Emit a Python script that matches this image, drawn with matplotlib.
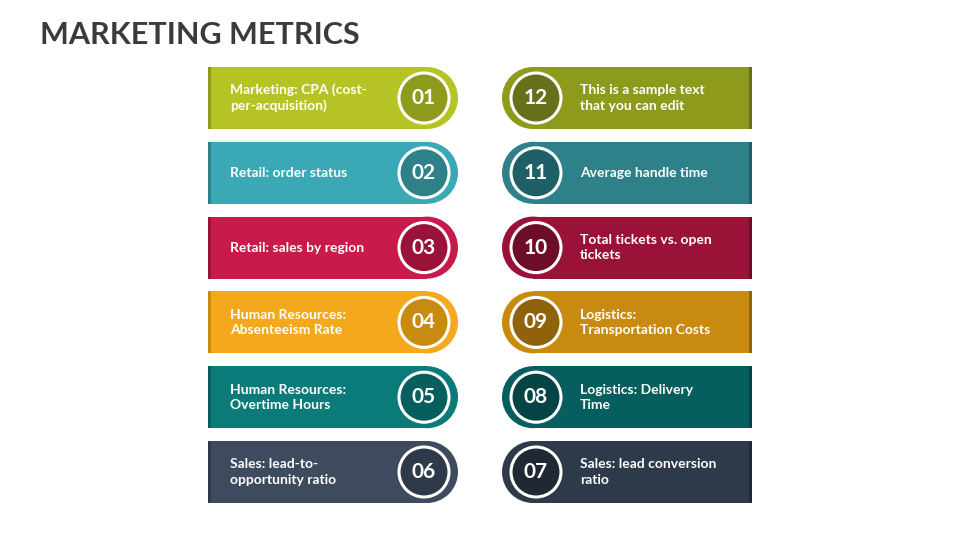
import matplotlib
matplotlib.use("Agg")
import matplotlib.pyplot as plt
from matplotlib.patches import Rectangle, Circle

plt.rcParams["font.family"] = "Lato"

title = "MARKETING METRICS"
left_numbers = ["01", "02", "03", "04", "05", "06"]
left_labels = ["Marketing: CPA (cost-\nper-acquisition)", "Retail: order status",
               "Retail: sales by region", "Human Resources:\nAbsenteeism Rate",
               "Human Resources:\nOvertime Hours", "Sales: lead-to-\nopportunity ratio"]
left_colors = ["#b5c424", "#3aa9b5", "#c81a4b", "#f3a91b", "#0b7b79", "#3e4b5f"]
left_dark = ["#8e9a1c", "#2e8089", "#9a1238", "#c98a10", "#075e5e", "#2e3a4a"]
right_numbers = ["12", "11", "10", "09", "08", "07"]
right_labels = ["This is a sample text\nthat you can edit", "Average handle time",
                "Total tickets vs. open\ntickets", "Logistics:\nTransportation Costs",
                "Logistics: Delivery\nTime", "Sales: lead conversion\nratio"]
right_colors = ["#8e9a1c", "#2e8089", "#9a1238", "#c98a10", "#075e5e", "#2e3a4a"]
right_dark = ["#66701a", "#1f5f66", "#6e0d28", "#8f620b", "#044444", "#1f2833"]

fig = plt.figure(figsize=(9.6, 5.4), dpi=100)
ax = fig.add_axes([0, 0, 1, 1])
ax.set_xlim(0, 960); ax.set_ylim(540, 0); ax.axis("off")
ax.text(40, 35, title, fontsize=22, fontweight="bold", color="#3b3b3b", va="center", ha="left")

h = 62
for i in range(6):
    cy = 98 + i * 74.8
    top = cy - h / 2
    ax.add_patch(Rectangle((210, top), 217, h, color=left_colors[i], lw=0))
    ax.add_patch(Circle((427, cy), h / 2, color=left_colors[i], lw=0))
    ax.add_patch(Rectangle((208, top), 3, h, color=left_dark[i], lw=0))
    ax.add_patch(Circle((424, cy), 25, facecolor=left_dark[i], edgecolor="white", lw=2.2))
    ax.text(424, cy, left_numbers[i], color="white", fontsize=15, fontweight="bold", ha="center", va="center")
    ax.text(230, cy, left_labels[i], color="white", fontsize=10, fontweight="bold", ha="left", va="center", linespacing=1.3)
    ax.add_patch(Rectangle((533, top), 217, h, color=right_colors[i], lw=0))
    ax.add_patch(Circle((533, cy), h / 2, color=right_colors[i], lw=0))
    ax.add_patch(Rectangle((749, top), 3, h, color=right_dark[i], lw=0))
    ax.add_patch(Circle((536, cy), 25, facecolor=right_dark[i], edgecolor="white", lw=2.2))
    ax.text(536, cy, right_numbers[i], color="white", fontsize=15, fontweight="bold", ha="center", va="center")
    ax.text(580, cy, right_labels[i], color="white", fontsize=10, fontweight="bold", ha="left", va="center", linespacing=1.3)

fig.savefig("out.png", dpi=100)
